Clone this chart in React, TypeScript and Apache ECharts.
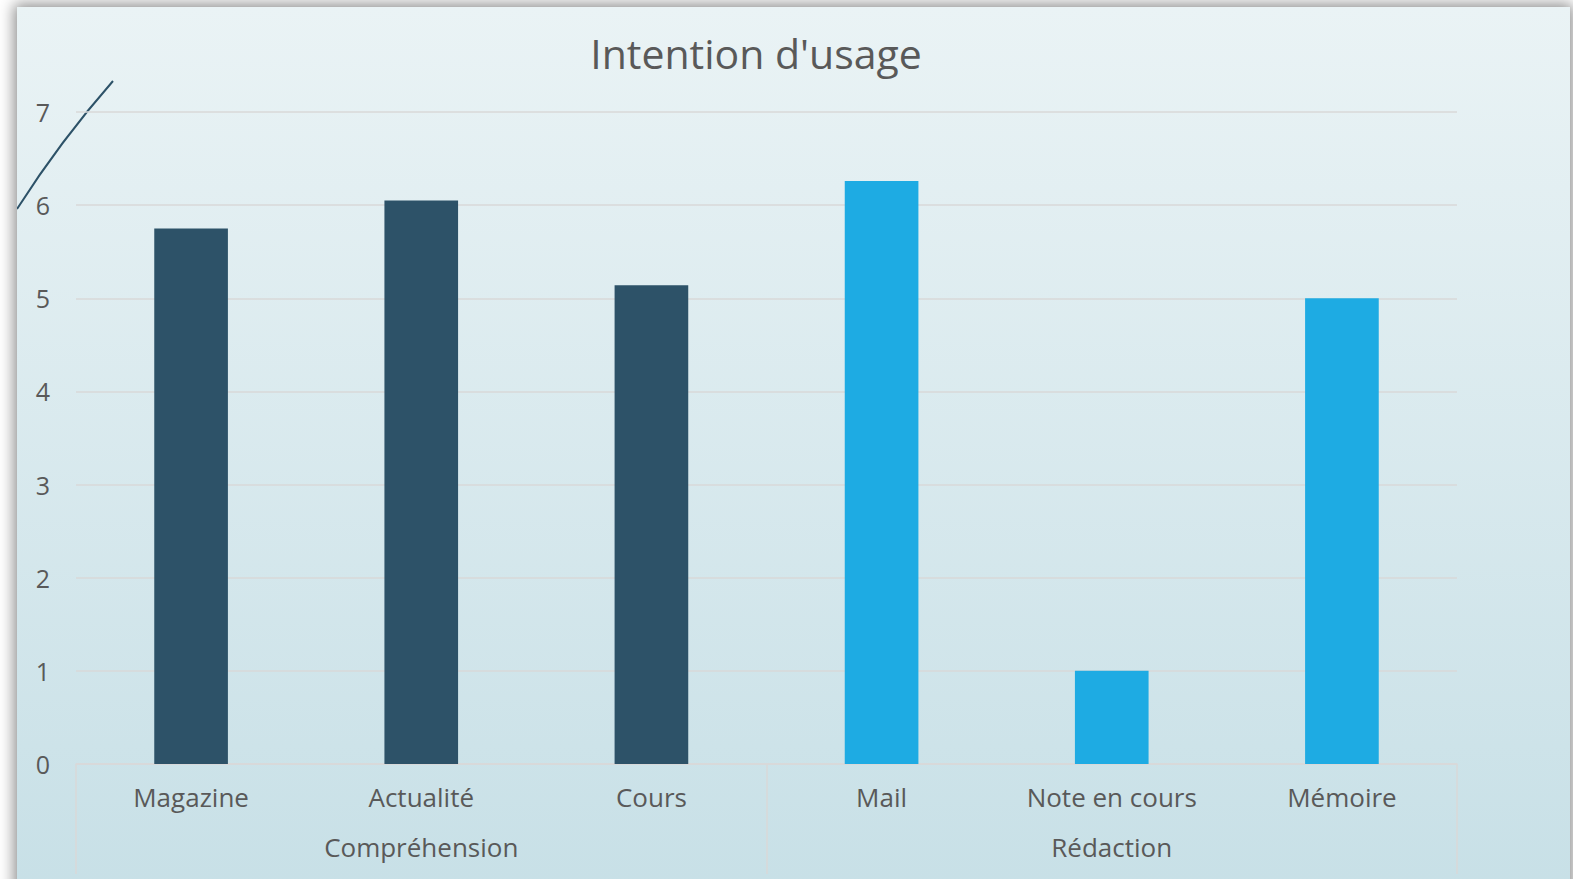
import React, { useEffect, useRef } from "react";
import * as echarts from "echarts";

const categories = ["Magazine", "Actualité", "Cours", "Mail", "Note en cours", "Mémoire"];
const groups = ["Compréhension", "Rédaction"];
const categoryGroup = [0, 0, 0, 1, 1, 1];
const values = [5.75, 6.05, 5.14, 6.26, 1, 5];
const groupColors = ["#2d5268", "#1eabe3"];
const yTicks = [0, 1, 2, 3, 4, 5, 6, 7];

const FONT = "'Century Gothic', 'URW Gothic', 'Open Sans', sans-serif";
const TEXT = "#595959";
const GRID = "#d9d9d9";

export default function App() {
  const ref = useRef<HTMLDivElement>(null);
  useEffect(() => {
    document.body.style.margin = "0";
    const chart = echarts.init(ref.current!, null, { renderer: "svg" });
    chart.setOption({
      animation: false,
      title: {
        text: "Intention d'usage",
        left: 734,
        textAlign: "center",
        top: 20,
        textStyle: { fontFamily: FONT, fontSize: 41, fontWeight: "normal", color: TEXT },
      },
      grid: { left: 59, right: 113, top: 105, bottom: 115 },
      xAxis: [
        {
          type: "category",
          data: categories,
          position: "bottom",
          axisLine: { show: true, lineStyle: { color: GRID, width: 1.5 } },
          axisTick: { show: false },
          axisLabel: { fontFamily: FONT, fontSize: 26, color: TEXT, margin: 20, interval: 0 },
        },
        {
          type: "category",
          data: groups,
          position: "bottom",
          axisLine: { show: false },
          axisTick: { show: true, length: 110, lineStyle: { color: GRID, width: 1.5 } },
          axisLabel: { fontFamily: FONT, fontSize: 26, color: TEXT, margin: 70 },
        },
      ],
      yAxis: {
        type: "value",
        min: 0,
        max: yTicks[yTicks.length - 1],
        interval: 1,
        axisLine: { show: false },
        axisTick: { show: false },
        splitLine: { lineStyle: { color: GRID, width: 1.5 } },
        axisLabel: { fontFamily: FONT, fontSize: 25, color: TEXT, margin: 26 },
      },
      series: [
        {
          type: "bar",
          xAxisIndex: 0,
          data: values,
          barWidth: "32%",
          itemStyle: {
            color: (p: any) => groupColors[categoryGroup[p.dataIndex]],
          },
        },
      ],
      graphic: [
        {
          type: "bezierCurve",
          shape: { x1: 0, y1: 202, cpx1: 30, cpy1: 155, cpx2: 60, cpy2: 115, x2: 96, y2: 74 },
          style: { stroke: "#2d5268", lineWidth: 2, fill: "none" },
          silent: true,
        },
      ],
    });
    return () => chart.dispose();
  }, []);
  return (
    <div style={{ position: "relative", width: 1573, height: 879, overflow: "hidden", background: "#ffffff" }}>
      <div
        style={{
          position: "absolute",
          left: 17,
          top: 7,
          width: 1553,
          height: 920,
          background: "linear-gradient(to bottom, #eaf3f5 0%, #c6dfe6 100%)",
          boxShadow: "0 0 14px 3px rgba(0,0,0,0.45)",
        }}
      >
        <div ref={ref} style={{ width: 1553, height: 872 }} />
      </div>
    </div>
  );
}
